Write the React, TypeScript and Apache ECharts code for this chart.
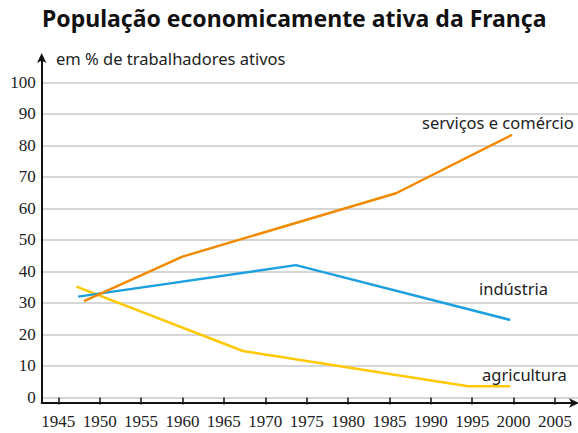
import React, { useEffect, useRef } from "react";
import * as echarts from "echarts";

const titleText = "População economicamente ativa da França";
const yAxisTitle = "em % de trabalhadores ativos";

const servicosYears = [1948.1, 1960, 1985.8, 1999.8];
const servicosValues = [30.6, 44.7, 64.8, 83.3];

const industriaYears = [1947.4, 1973.7, 1999.6];
const industriaValues = [32.0, 42.0, 24.6];

const agriculturaYears = [1947.2, 1967.3, 1994.5, 1999.6];
const agriculturaValues = [35.2, 14.75, 3.6, 3.6];

const seriesNames = ["serviços e comércio", "indústria", "agricultura"];

const pairs = (xs: number[], ys: number[]) => xs.map((x, i) => [x, ys[i]]);

export default function App() {
  const ref = useRef<HTMLDivElement>(null);
  useEffect(() => {
    if (!ref.current) return;
    const chart = echarts.init(ref.current, null, { renderer: "svg" });
    const font = "Noto Sans";
    const numFont = "Liberation Sans Narrow";
    const option: any = {
      animation: false,
      backgroundColor: "#ffffff",
      title: [
        {
          text: titleText,
          left: 37,
          top: 1,
          textStyle: { fontFamily: font, fontWeight: "bold", fontSize: 23, color: "#111" },
        },
        {
          text: yAxisTitle,
          left: 51,
          top: 45,
          textStyle: { fontFamily: font, fontWeight: "normal", fontSize: 16.5, color: "#222" },
        },
      ],
      grid: [
        { left: 58.3, right: 23, top: 82.3, bottom: 35.5 },
        { left: 41.7, right: 0, top: 82.3, bottom: 35.5 },
        { left: 41.7, right: 3, top: 57, bottom: 30 },
      ],
      xAxis: [
        {
          gridIndex: 0,
          type: "value",
          min: 1945,
          max: 2005,
          interval: 5,
          offset: 5.5,
          axisLine: { show: false },
          axisTick: { show: true, length: 7, inside: false, lineStyle: { color: "#111", width: 1.5 } },
          axisLabel: {
            margin: 10,
            fontFamily: numFont,
            fontSize: 17,
            color: "#222",
            formatter: (v: number) => String(v),
          },
          splitLine: { show: false },
        },
        {
          gridIndex: 1,
          type: "value",
          show: false,
          min: 0,
          max: 1,
        },
        {
          gridIndex: 2,
          type: "value",
          min: 0,
          max: 1,
          axisLine: {
            show: true,
            onZero: false,
            symbol: ["none", "arrow"],
            symbolSize: [7, 10],
            symbolOffset: [0, 4],
            lineStyle: { color: "#111", width: 2 },
          },
          axisTick: { show: false },
          axisLabel: { show: false },
          splitLine: { show: false },
        },
      ],
      yAxis: [
        {
          gridIndex: 0,
          type: "value",
          min: 0,
          max: 100,
          interval: 10,
          show: false,
        },
        {
          gridIndex: 1,
          type: "value",
          min: 0,
          max: 100,
          interval: 10,
          axisLine: { show: false },
          axisTick: { show: false },
          axisLabel: { margin: 6, fontFamily: numFont, fontSize: 17, color: "#222" },
          splitLine: { show: true, lineStyle: { color: "#c8c8c8", width: 1.5 } },
        },
        {
          gridIndex: 2,
          type: "value",
          min: 0,
          max: 1,
          axisLine: {
            show: true,
            onZero: false,
            symbol: ["none", "arrow"],
            symbolSize: [7, 10],
            symbolOffset: [0, 4],
            lineStyle: { color: "#111", width: 2 },
          },
          axisTick: { show: false },
          axisLabel: { show: false },
          splitLine: { show: false },
        },
      ],
      series: [
        {
          name: seriesNames[0],
          type: "line",
          xAxisIndex: 0,
          yAxisIndex: 0,
          data: pairs(servicosYears, servicosValues),
          showSymbol: false,
          lineStyle: { color: "#f28a00", width: 2.5 },
          itemStyle: { color: "#f28a00" },
          z: 3,
        },
        {
          name: seriesNames[1],
          type: "line",
          xAxisIndex: 0,
          yAxisIndex: 0,
          data: pairs(industriaYears, industriaValues),
          showSymbol: false,
          lineStyle: { color: "#1ea0e0", width: 2.5 },
          itemStyle: { color: "#1ea0e0" },
          z: 2,
        },
        {
          name: seriesNames[2],
          type: "line",
          xAxisIndex: 0,
          yAxisIndex: 0,
          data: pairs(agriculturaYears, agriculturaValues),
          showSymbol: false,
          lineStyle: { color: "#ffc800", width: 2.5 },
          itemStyle: { color: "#ffc800" },
          z: 1,
        },
      ],
      graphic: [
        {
          type: "text",
          left: 422,
          top: 114,
          style: { text: seriesNames[0], font: `16.5px "${font}"`, fill: "#222" },
        },
        {
          type: "text",
          left: 479,
          top: 280,
          style: { text: seriesNames[1], font: `16.5px "${font}"`, fill: "#222" },
        },
        {
          type: "text",
          left: 482,
          top: 366,
          style: { text: seriesNames[2], font: `16.5px "${font}"`, fill: "#222" },
        },
      ],
    };
    chart.setOption(option);
    return () => chart.dispose();
  }, []);
  return (
    <div
      ref={ref}
      style={{ position: "fixed", left: 0, top: 0, width: 578, height: 433, background: "#fff" }}
    />
  );
}
